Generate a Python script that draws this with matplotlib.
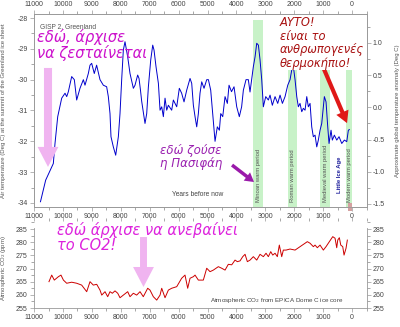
import matplotlib
matplotlib.use("Agg")
import matplotlib.pyplot as plt
from matplotlib.patches import Rectangle
from matplotlib.ticker import MultipleLocator

# GISP2 air temperature at the summit of Greenland (years before now, deg C)
gisp_years = [10780, 10600, 10335, 10277, 10183, 10045, 9930, 9872, 9815, 9700,
              9608, 9527, 9412, 9296, 9239, 9124, 9066, 9008, 8918, 8837,
              8720, 8605, 8490, 8432, 8374, 8340, 8259, 8177, 8085, 8028,
              7970, 7913, 7855, 7762, 7682, 7566, 7509, 7417, 7370, 7320,
              7278, 7163, 7104, 7046, 6965, 6896, 6851, 6782, 6700, 6643,
              6585, 6528, 6470, 6412, 6355, 6240, 6182, 6066, 5976, 5895,
              5813, 5720, 5605, 5547, 5490, 5432, 5374, 5317, 5260, 5201,
              5121, 5028, 4970, 4890, 4820, 4740, 4661, 4590, 4543, 4474,
              4394, 4314, 4256, 4170, 4083, 3990, 3900, 3820, 3760, 3668,
              3588, 3530, 3415, 3356, 3298, 3240, 3183, 3125, 3069, 2986,
              2896, 2837, 2758, 2664, 2571, 2491, 2410, 2318, 2225, 2145,
              2087, 2030, 1972, 1913, 1858, 1800, 1740, 1685, 1626, 1567,
              1512, 1453, 1395, 1340, 1280, 1221, 1166, 1107, 1049, 993,
              958, 900, 841, 796, 727, 682, 612, 529, 450, 356,
              266, 183, 128, 93]
gisp_temp = [-33.96, -33.26, -32.72, -32.07, -31.2, -30.6, -30.44, -30.55, -30.39, -29.9,
             -30.0, -30.66, -30.28, -30.0, -30.18, -29.8, -29.53, -29.47, -29.8, -29.53,
             -30.0, -30.18, -30.23, -30.55, -31.1, -31.85, -32.18, -32.45, -31.85, -31.1,
             -30.0, -29.04, -28.77, -29.26, -29.8, -30.28, -30.18, -29.85, -29.96, -30.34,
             -30.7, -31.42, -31.1, -30.23, -29.36, -28.88, -29.04, -29.58, -30.12, -30.99,
             -30.88, -31.2, -30.6, -30.99, -30.83, -30.99, -30.66, -30.88, -30.28, -30.44,
             -30.72, -30.34, -29.96, -30.12, -30.83, -31.2, -31.53, -31.1, -30.44, -30.07,
             -30.28, -30.0, -30.0, -30.34, -31.1, -32.0, -31.53, -31.64, -31.1, -31.2,
             -30.55, -30.77, -30.18, -30.39, -30.23, -30.88, -31.2, -30.88, -30.34, -30.0,
             -30.0, -30.4, -29.58, -29.26, -28.82, -28.88, -29.36, -30.0, -30.88, -30.55,
             -30.66, -30.5, -30.83, -30.55, -30.77, -30.5, -30.77, -30.55, -30.18, -30.0,
             -29.69, -29.58, -30.0, -30.55, -30.88, -30.77, -31.04, -30.93, -30.99, -30.55,
             -30.88, -30.77, -31.53, -31.85, -31.8, -32.18, -31.96, -31.64, -31.42, -30.88,
             -30.55, -30.72, -31.53, -32.07, -31.64, -31.96, -31.8, -31.96, -31.85, -32.07,
             -31.96, -32.01, -31.64, -31.62]

# EPICA Dome C atmospheric CO2 (years before now, ppm)
co2_years = [10485, 10391, 10301, 10159, 10070, 9986, 9872, 9700, 9527, 9354,
             9180, 9066, 8951, 8834, 8720, 8660, 8546, 8454, 8374, 8294,
             8201, 8107, 8028, 7913, 7762, 7682, 7566, 7451, 7336, 7222,
             7070, 6990, 6875, 6758, 6643, 6585, 6470, 6355, 6240, 6066,
             5895, 5779, 5686, 5605, 5490, 5432, 5317, 5260, 5145, 5028,
             4913, 4799, 4626, 4509, 4394, 4280, 4163, 4048, 3968, 3875,
             3782, 3702, 3622, 3529, 3415, 3298, 3183, 3069, 2976, 2896,
             2813, 2744, 2664, 2585, 2516, 2433, 2377, 2284, 2145, 1972,
             1799, 1626, 1547, 1453, 1339, 1280, 1201, 1107, 993, 900,
             785, 668, 588, 530, 495, 439, 391, 322, 277, 208,
             163]
co2_ppm = [265.0, 267.5, 265.6, 266.9, 267.5, 265.6, 264.4, 264.8, 264.4, 263.7,
           261.2, 265.0, 263.7, 264.0, 261.8, 259.9, 261.2, 259.3, 261.2, 260.6,
           261.5, 260.6, 258.9, 259.9, 261.2, 259.3, 260.6, 259.9, 261.2, 259.3,
           262.5, 261.8, 259.3, 258.0, 259.9, 262.5, 258.9, 261.8, 262.5, 263.1,
           266.3, 267.5, 262.5, 266.3, 266.9, 267.5, 265.6, 265.6, 265.6, 270.1,
           268.8, 269.4, 270.7, 270.1, 269.4, 271.6, 271.4, 273.2, 272.6, 272.9,
           274.5, 275.4, 272.6, 273.2, 274.5, 273.2, 275.4, 274.5, 275.8, 274.5,
           276.4, 275.1, 275.8, 274.5, 278.9, 274.5, 277.0, 277.0, 277.4, 277.0,
           278.3, 279.6, 280.2, 279.6, 278.3, 278.9, 277.9, 278.9, 277.0, 278.3,
           280.2, 282.1, 281.5, 277.9, 280.8, 281.7, 278.9, 278.3, 275.1, 277.7,
           280.8]

period_names = ["Minoan warm period", "Roman warm period",
                "Medieval warm period", "Modern warm period"]
period_start = [3415, 2225, 1107, 207]
period_end = [3069, 1893, 761, 0]

TICK_C = "#444444"
SPINE_C = "#999999"
SANS = "Liberation Sans"
HAND = dict(family="DejaVu Sans", style="oblique")

plt.rcParams.update({
    "font.family": SANS,
    "font.size": 5,
    "axes.edgecolor": SPINE_C,
    "axes.linewidth": 0.6,
    "xtick.color": SPINE_C,
    "ytick.color": SPINE_C,
    "xtick.labelcolor": TICK_C,
    "ytick.labelcolor": TICK_C,
    "xtick.labelsize": 5,
    "ytick.labelsize": 5,
    "xtick.major.size": 3,
    "ytick.major.size": 3,
    "xtick.minor.size": 2,
    "ytick.minor.size": 2,
    "xtick.major.width": 0.5,
    "ytick.major.width": 0.5,
    "xtick.major.pad": 1.5,
    "ytick.major.pad": 1.5,
})

fig = plt.figure(figsize=(4.0, 3.27), dpi=100)
ax = fig.add_axes([0.08525, 0.3670, 0.831, 0.5902])
axr = ax.twinx()
axc = fig.add_axes([0.08525, 0.0581, 0.831, 0.266])

# ---------- top panel: GISP2 ----------
for name, s, e in zip(period_names, period_start, period_end):
    ax.axvspan(s, e, ymin=0, ymax=0.969, color="#c8f2c8", lw=0, zorder=0)
    ax.text((s + e) / 2, -33.97, name, rotation=90, ha="center", va="bottom",
            fontsize=4.2, color="#555555", zorder=2)
ax.text(450, -33.68, "Little Ice Age", rotation=90, ha="center", va="bottom",
        fontsize=4.2, color="#1a1a9a", fontweight="bold")

ax.plot(gisp_years, gisp_temp, color="#0000cc", lw=0.7, zorder=3)

ax.set_xlim(11000, -500)
ax.set_ylim(-34.13, -27.87)
axr.set_ylim(-1.547, 1.45)
ax.xaxis.set_major_locator(MultipleLocator(1000))
ax.xaxis.set_minor_locator(MultipleLocator(500))
ax.yaxis.set_major_locator(MultipleLocator(1))
ax.yaxis.set_minor_locator(MultipleLocator(0.5))
axr.yaxis.set_major_locator(MultipleLocator(0.5))
axr.yaxis.set_minor_locator(MultipleLocator(0.25))
ax.tick_params(axis="x", which="both", top=True, labeltop=True)
ax.yaxis.set_major_formatter(lambda v, p: f"{v:.0f}")
axr.yaxis.set_major_formatter(lambda v, p: f"{v:.1f}")

ax.set_ylabel("Air temperature (Deg C) at the summit of the Greenland ice sheet",
              fontsize=4.3, color="#555555")
ax.yaxis.set_label_coords(-0.085, 0.5)
axr.set_ylabel("Approximate global temperature anomaly (Deg C)",
               fontsize=4.3, color="#555555", rotation=90)
axr.yaxis.set_label_coords(1.086, 0.5)

ax.text(10796, -28.29, "GISP 2, Greenland", fontsize=4.8, color="#555555",
        ha="left", va="center")
ax.text(5329, -33.74, "Years before now", fontsize=4.8, color="#444444",
        ha="center", va="center")

# small marker for the present
ax.add_patch(Rectangle((0, -34.26), 140, 0.26, color="#d4a0a0", lw=0,
                       clip_on=False, zorder=4))

# annotations
ax.text(10900, -28.36, "εδώ, άρχισε\nνα ζεσταίνεται", color="#cc11cc",
        fontsize=10.5, ha="left", va="top", linespacing=1.0, zorder=5, **HAND)
ax.annotate("", xy=(10519, -32.83), xytext=(10519, -29.62),
            arrowprops=dict(arrowstyle="simple,head_width=1.5,head_length=1.44,tail_width=0.58",
                            mutation_scale=10, color="#f0b4f0", lw=0,
                            shrinkA=0, shrinkB=0), zorder=4)

ax.text(6644, -32.08, "εδώ ζούσε\nη Πασιφάη", color="#9a20b0",
        fontsize=8.5, ha="left", va="top", linespacing=1.05, zorder=5, **HAND)
ax.annotate("", xy=(3391, -33.32), xytext=(4152, -32.77),
            arrowprops=dict(arrowstyle="simple,head_width=0.75,head_length=0.65,tail_width=0.25",
                            mutation_scale=10, color="#9a1aaa", lw=0,
                            shrinkA=0, shrinkB=0), zorder=4)

ax.text(2491, -27.94, "ΑΥΤΟ!\nείναι το\nανθρωπογενές\nθερμοκήπιο!",
        color="#a81010", fontsize=8.3, ha="left", va="top", linespacing=1.05,
        zorder=5, bbox=dict(fc="white", ec="none", pad=0.6), **HAND)
ax.annotate("", xy=(173, -31.41), xytext=(1003, -29.59),
            arrowprops=dict(arrowstyle="simple,head_width=0.95,head_length=0.85,tail_width=0.3",
                            mutation_scale=10, color="#e01818", lw=0,
                            shrinkA=0, shrinkB=0), zorder=4)

# ---------- bottom panel: CO2 ----------
axc.plot(co2_years, co2_ppm, color="#cc0000", lw=0.7)
axc.set_xlim(11000, -500)
axc.set_ylim(255, 288.04)
axc.xaxis.set_major_locator(MultipleLocator(1000))
axc.xaxis.set_minor_locator(MultipleLocator(500))
axc.yaxis.set_major_locator(MultipleLocator(5))
axc.yaxis.set_minor_locator(MultipleLocator(2.5))
axc.spines["top"].set_visible(False)
axc.spines["left"].set_bounds(255, 285.3)
axc.spines["right"].set_bounds(255, 285.3)
axc.tick_params(axis="x", which="both", top=True)
axc.tick_params(axis="y", which="both", right=True, labelright=True)
axc.yaxis.set_major_formatter(lambda v, p: f"{v:.0f}")
axc.set_ylabel("Atmospheric CO$_2$ (ppm)", fontsize=4.3, color="#555555")
axc.yaxis.set_label_coords(-0.08, 0.46)

axc.text(277, 257.66, "Atmospheric CO$_2$ from EPICA Dome C ice core",
         fontsize=4.5, color="#444444", ha="right", va="center")

axc.text(10207, 287.6, "εδώ άρχισε να ανεβαίνει\nτο CO2!", color="#dd22dd",
         fontsize=10.5, ha="left", va="top", linespacing=1.0, zorder=5, **HAND)
axc.annotate("", xy=(7215, 262.98), xytext=(7215, 281.96),
             arrowprops=dict(arrowstyle="simple,head_width=1.5,head_length=1.44,tail_width=0.5",
                             mutation_scale=10, color="#f0b4f0", lw=0,
                             shrinkA=0, shrinkB=0), zorder=4)

fig.savefig("out.png", dpi=100, facecolor="white")
